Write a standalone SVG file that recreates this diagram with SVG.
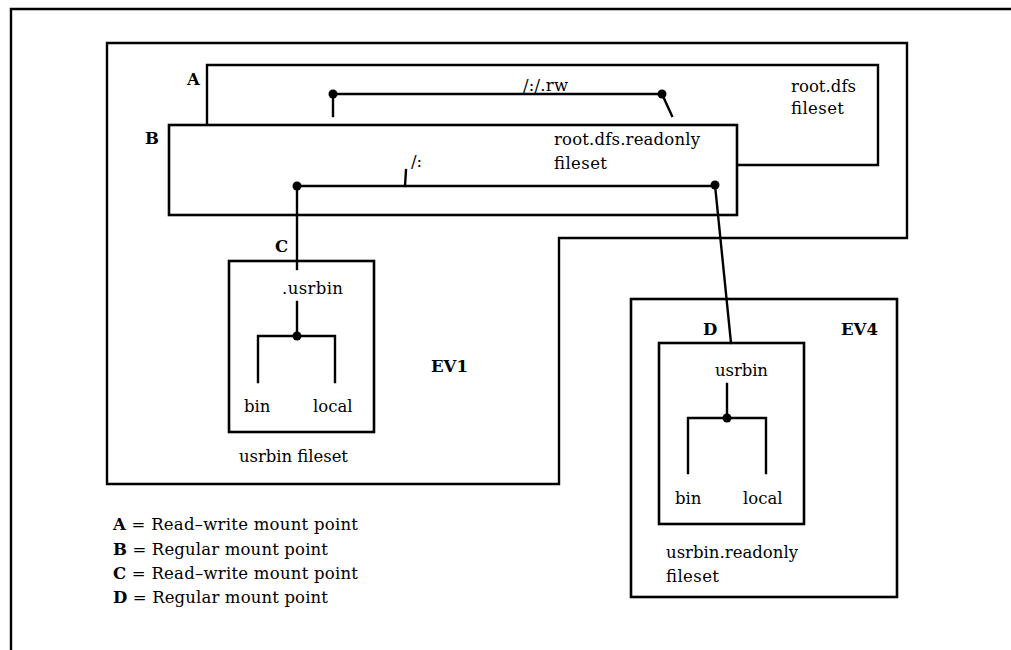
<svg xmlns="http://www.w3.org/2000/svg" width="1011" height="650" viewBox="0 0 1011 650">
<defs>
<style>
.ln{fill:none;stroke:#000;stroke-width:2.4;stroke-linecap:square;stroke-linejoin:miter}
.bx{fill:#fff;stroke:#000;stroke-width:2.6}
.t{font-family:"DejaVu Serif","Liberation Serif",serif;font-size:16.5px;fill:#000}
.b{font-weight:bold}
.dot{fill:#000}
</style>
</defs>
<rect width="1011" height="650" fill="#fff"/>
<g id="frame"><polyline class="ln" points="11,650 11,9 1011,9" stroke-width="2"/></g>
<g id="ev1">
<polygon class="ln" points="107,43 907,43 907,238 559,238 559,484 107,484"/>
<text class="t b" x="431" y="372">EV1</text>
</g>
<g id="rootdfs">
<polyline class="ln" points="207,125 207,65 878,65 878,165 737,165"/>
<text class="t b" x="187" y="85">A</text>
<text class="t" x="791" y="92" textLength="65">root.dfs</text>
<text class="t" x="791" y="114" textLength="53">fileset</text>
</g>
<g id="rootdfsreadonly">
<rect class="bx" x="169" y="125" width="568" height="90"/>
<text class="t b" x="145" y="144">B</text>
<text class="t" x="554" y="145" textLength="146">root.dfs.readonly</text>
<text class="t" x="554" y="169" textLength="53">fileset</text>
</g>
<g id="usrbin">
<rect class="bx" x="229" y="261" width="145" height="171"/>
<text class="t b" x="275" y="252">C</text>
<text class="t" x="282" y="294" textLength="61">.usrbin</text>
<text class="t" x="244" y="412">bin</text>
<text class="t" x="313" y="412">local</text>
<text class="t" x="239" y="462" textLength="109">usrbin fileset</text>
</g>
<g id="ev4">
<rect class="bx" x="631" y="299" width="266" height="298"/>
<text class="t b" x="841" y="335">EV4</text>
<text class="t" x="666" y="558" textLength="132">usrbin.readonly</text>
<text class="t" x="666" y="582" textLength="53">fileset</text>
</g>
<g id="usrbinreadonly">
<rect class="bx" x="659" y="343" width="145" height="181"/>
<text class="t b" x="703" y="335">D</text>
<text class="t" x="715" y="376" textLength="53">usrbin</text>
<text class="t" x="675" y="504">bin</text>
<text class="t" x="743" y="504">local</text>
</g>
<g id="connectors">
<line class="ln" x1="333" y1="94" x2="662" y2="94"/>
<line class="ln" x1="333" y1="94" x2="333" y2="116" stroke-width="3"/>
<line class="ln" x1="662" y1="94" x2="672" y2="116" stroke-width="3"/>
<circle class="dot" cx="333" cy="94" r="4.5"/>
<circle class="dot" cx="662" cy="94" r="4.5"/>
<text class="t" x="523" y="91" textLength="45">/:/.rw</text>
<line class="ln" x1="297" y1="186" x2="715" y2="186"/>
<line class="ln" x1="405" y1="186" x2="406" y2="170"/>
<text class="t" x="411" y="167">/:</text>
<circle class="dot" cx="297" cy="186" r="4.5"/>
<circle class="dot" cx="715" cy="185" r="4.5"/>
<line class="ln" x1="297" y1="186" x2="297" y2="269"/>
<line class="ln" x1="715" y1="185" x2="731" y2="343"/>
<line class="ln" x1="297" y1="302" x2="297" y2="336"/>
<polyline class="ln" points="258,382 258,336 335,336 335,382"/>
<circle class="dot" cx="297" cy="336" r="4.5"/>
<line class="ln" x1="727" y1="384" x2="727" y2="418" stroke-width="2.8"/>
<polyline class="ln" points="688,473 688,418 766,418 766,473"/>
<circle class="dot" cx="727" cy="418" r="4.5"/>
</g>
<g id="legend">
<text class="t" x="113" y="530" textLength="245"><tspan class="b">A</tspan> = Read–write mount point</text>
<text class="t" x="113" y="555" textLength="215"><tspan class="b">B</tspan> = Regular mount point</text>
<text class="t" x="113" y="579" textLength="245"><tspan class="b">C</tspan> = Read–write mount point</text>
<text class="t" x="113" y="603" textLength="215"><tspan class="b">D</tspan> = Regular mount point</text>
</g>
</svg>
